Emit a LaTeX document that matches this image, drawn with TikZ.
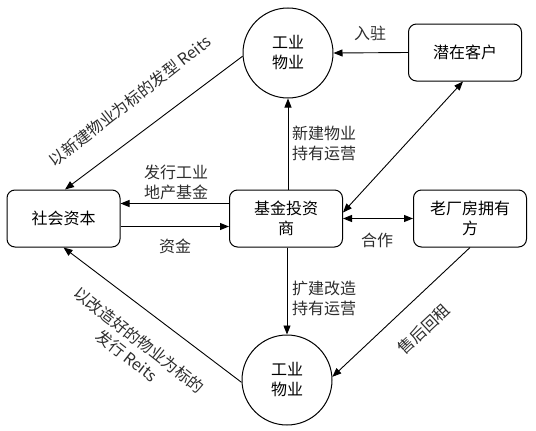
\documentclass[tikz,border=0pt]{standalone}
\usepackage{fontspec}
\setmainfont{Noto Sans CJK SC}
\usetikzlibrary{arrows.meta}
\definecolor{lbl}{RGB}{45,45,45}
\begin{document}
\begin{tikzpicture}[x=1pt,y=-1pt,
  box/.style={draw,rounded corners=8pt,line width=1pt,minimum width=113pt,minimum height=57pt,align=center,inner sep=2pt,font=\fontsize{16}{20}\selectfont},
  circ/.style={draw,circle,line width=1pt,minimum size=90pt,align=center,inner sep=0pt,font=\fontsize{16}{20}\selectfont},
  arr/.style={line width=0.9pt,-{Triangle[length=9pt,width=7pt]}},
  darr/.style={line width=0.9pt,{Triangle[length=9pt,width=7pt]}-{Triangle[length=9pt,width=7pt]}},
  lab/.style={text=lbl,font=\fontsize{16}{20}\selectfont,inner sep=0pt}]
\useasboundingbox (0,0) rectangle (536,431);
\node[circ] (tc) at (288,53) {工业\\物业};
\node[circ] (bc) at (287,380) {工业\\物业};
\node[box] (cust) at (465,52.5) {潜在客户};
\node[box] (soc) at (63.5,218.5) {社会资本};
\node[box] (fund) at (286,218.5) {基金投资\\商};
\node[box] (old) at (470,218.5) {老厂房拥有\\方};
% connectors
\draw[arr] (cust.west) -- (tc.east);
\draw[arr] (fund.north -| tc.south) -- (tc.south);
\draw[arr] ([yshift=15pt]fund.west) -- ([yshift=15pt]fund.west -| soc.east);
\draw[arr] ([yshift=-8pt]soc.east) -- ([yshift=-8pt]soc.east -| fund.west);
\draw[arr] (fund.south -| bc.north) -- (bc.north);
\draw[darr] ([yshift=0pt]fund.east) -- (old.west);
\draw[darr] ([yshift=6pt]fund.east) -- ([xshift=-2pt]cust.south);
\draw[arr] (tc.184) -- ([xshift=1.5pt]soc.north);
\draw[arr] (bc.183) -- (soc.south);
\draw[arr] (old.south) -- (bc.4);
% labels
\node[lab] (l1) at (370,33) {入驻};
\node[lab,anchor=west,align=left] (l2) at (292,143) {新建物业\\持有运营};
\node[lab,align=center] (l3) at (176,182) {发行工业\\地产基金};
\node[lab] (l4) at (175,246) {资金};
\node[lab,anchor=west,align=left] (l5) at (292,298) {扩建改造\\持有运营};
\node[lab] (l6) at (377,240) {合作};
\node[lab,rotate=43] (l7) at (424,329) {售后回租};
\node[lab,rotate=38] (l8) at (130,101) {以新建物业为标的发型 Reits};
\node[lab,rotate=-38,align=center] (l9) at (133,348) {以改造好的物业为标的\\发行 Reits};
\end{tikzpicture}
\end{document}
